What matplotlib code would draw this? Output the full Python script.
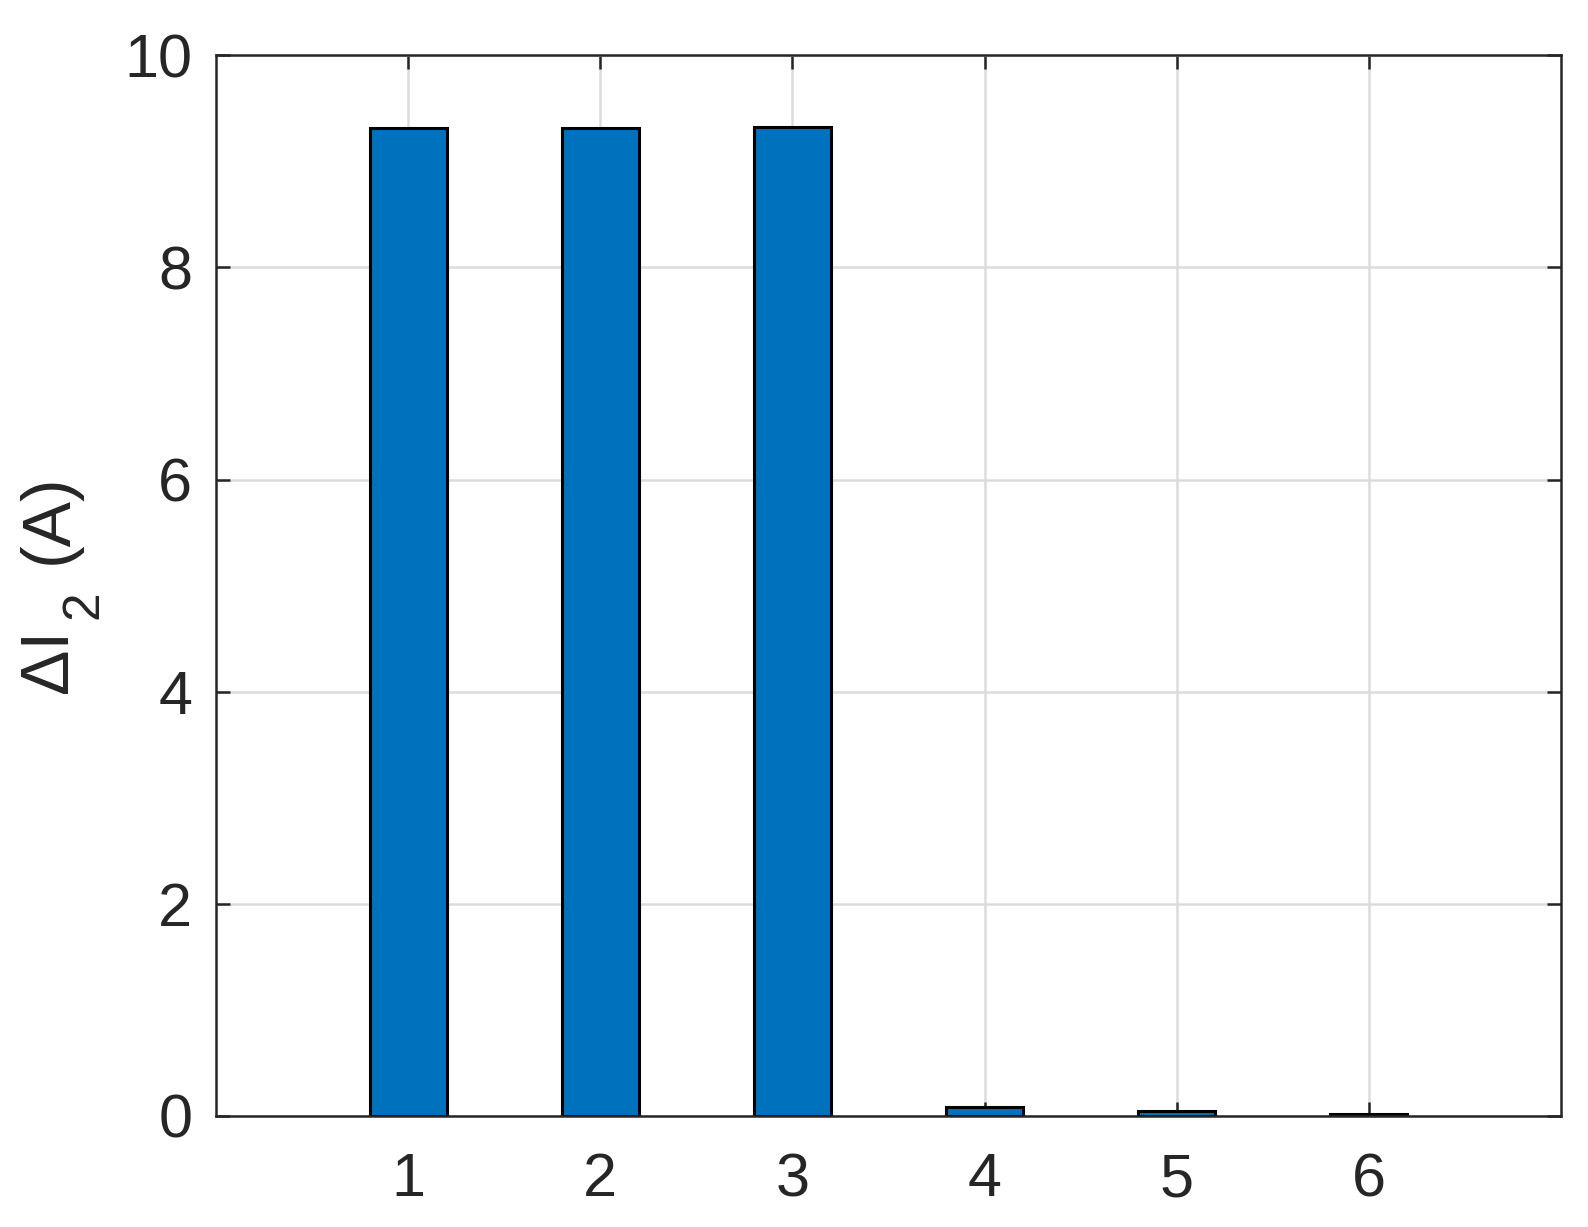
import matplotlib
matplotlib.use("Agg")
import matplotlib.pyplot as plt
from matplotlib.transforms import offset_copy

categories = [1, 2, 3, 4, 5, 6]
values = [9.31, 9.31, 9.32, 0.08, 0.045, 0.015]
yticks = [0, 2, 4, 6, 8, 10]

plt.rcParams['font.family'] = ['Liberation Sans', 'DejaVu Sans']

fig = plt.figure(figsize=(15.88, 12.27), dpi=100)
ax = fig.add_axes([0.136, 0.0905, 0.847, 0.8645])
dark = '#262626'
ax.bar(categories, values, width=0.4, color='#0072BD', edgecolor='black', linewidth=2.2, zorder=3)
ax.set_xlim(0, 7)
ax.set_ylim(0, 10)
ax.set_xticks(categories)
ax.set_yticks(yticks)
ax.grid(True, color='#dcdcdc', linewidth=1.8, zorder=0)
ax.set_axisbelow(True)
ax.tick_params(direction='in', length=10, width=1.8, colors=dark, labelsize=44,
               top=True, right=True)
ax.tick_params(axis='x', pad=26)
ax.tick_params(axis='y', pad=17)
for s in ax.spines.values():
    s.set_linewidth(1.8)
    s.set_color(dark)
    s.set_zorder(5)

# y label "ΔI_2 (A)" built MATLAB-style (large, lowered subscript)
fig.canvas.draw()
renderer = fig.canvas.get_renderer()
x_base = 67 / 1588
y_start = (1227 - 693) / 1227
t1 = fig.text(x_base, y_start, 'ΔI', rotation=90, rotation_mode='anchor',
              ha='left', va='baseline', fontsize=49, color=dark)
bb1 = t1.get_window_extent(renderer)
h1 = bb1.height
tr2 = offset_copy(fig.transFigure, fig=fig, x=30 * 72 / 100, y=(h1 + 10) * 72 / 100, units='points')
t2 = fig.text(x_base, y_start, '2', rotation=90, rotation_mode='anchor',
              ha='left', va='baseline', fontsize=37, color=dark, transform=tr2)
bb2 = t2.get_window_extent(renderer)
h2 = bb2.height
tr3 = offset_copy(fig.transFigure, fig=fig, x=0, y=(h1 + h2 + 36) * 72 / 100, units='points')
fig.text(x_base, y_start, '(A)', rotation=90, rotation_mode='anchor',
         ha='left', va='baseline', fontsize=49, color=dark, transform=tr3)

fig.savefig('out.png', dpi=100)
